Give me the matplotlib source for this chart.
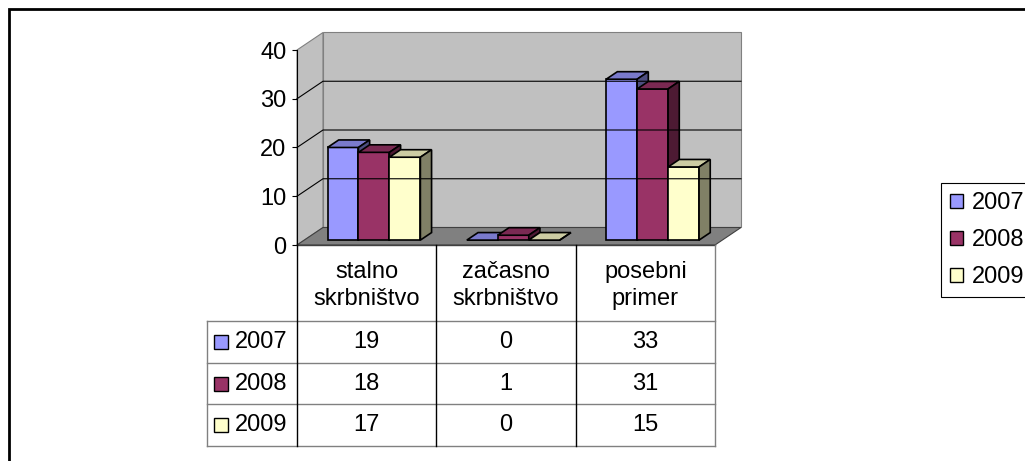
import numpy as np
import matplotlib
matplotlib.use("Agg")
import matplotlib.pyplot as plt
from matplotlib.patches import Polygon, Rectangle, Patch
from matplotlib.colors import to_rgb

plt.rcParams["font.family"] = ["Liberation Sans", "DejaVu Sans"]

categories = ["stalno\nskrbništvo", "začasno\nskrbništvo", "posebni\nprimer"]
years = ["2007", "2008", "2009"]
v2007 = [19, 0, 33]
v2008 = [18, 1, 31]
v2009 = [17, 0, 15]
series = [v2007, v2008, v2009]
colors = ["#9999FF", "#993366", "#FFFFCC"]
yticks = [0, 10, 20, 30, 40]

FS = 17
W, H = 1025, 461
fig = plt.figure(figsize=(W / 100, H / 100), dpi=100)

# chart frame (cut by the image on the right and bottom)
fig.patches.append(Rectangle((9 / W, -0.1), 1.2, (H - 9) / H + 0.1, transform=fig.transFigure,
                             facecolor="none", edgecolor="black", lw=2))

# front plane of the plot in pixels
px_left, px_right, px_zero, px_top = 297, 715, 245, 50
ax = fig.add_axes([px_left / W, (H - px_zero) / H, (px_right - px_left) / W, (px_zero - px_top) / H])
ax.set_xlim(-0.5, 2.5)
ax.set_ylim(0, 40)
ax.patch.set_visible(False)
for s in ["top", "right", "bottom"]:
    ax.spines[s].set_visible(False)
ax.spines["left"].set_zorder(5)
ax.set_xticks([])
ax.set_yticks(yticks)
ax.tick_params(axis="y", length=3.6, width=0.8, pad=4, labelsize=FS)

# depth offset of the back wall, in data units
DX = 26 / ((px_right - px_left) / 3)
DY = 17.5 / ((px_zero - px_top) / 40)


def proj(x, y, d):
    return (x + d * DX, y + d * DY)


def poly(pts, **kw):
    ax.add_patch(Polygon([proj(*p) for p in pts], closed=True, clip_on=False, **kw))


wall = "#C0C0C0"
poly([(-0.5, 0, 0), (-0.5, 40, 0), (-0.5, 40, 1), (-0.5, 0, 1)], facecolor=wall, edgecolor="#808080", lw=0.8)
poly([(-0.5, 0, 1), (-0.5, 40, 1), (2.5, 40, 1), (2.5, 0, 1)], facecolor=wall, edgecolor="#808080", lw=0.8)
poly([(-0.5, 0, 0), (2.5, 0, 0), (2.5, 0, 1), (-0.5, 0, 1)], facecolor="#808080", edgecolor="#404040", lw=0.8)

for v in yticks[1:-1]:
    xs, ys = zip(proj(-0.5, v, 0), proj(-0.5, v, 1), proj(2.5, v, 1))
    ax.plot(xs, ys, color="black", lw=0.8, clip_on=False)

# bars
w = 1 / 4.5
f0, f1 = 0.28, 0.71
for i in range(len(categories)):
    for j, vals in enumerate(series):
        v = vals[i]
        base = np.array(to_rgb(colors[j]))
        x0 = i - 1.5 * w + j * w
        x1 = x0 + w
        fx, fy = proj(x0, 0, f0)
        ax.bar(fx, v, width=w, bottom=fy, align="edge", color=colors[j],
               edgecolor="black", lw=1.2, clip_on=False)
        poly([(x0, v, f0), (x1, v, f0), (x1, v, f1), (x0, v, f1)],
             facecolor=base * 0.8, edgecolor="black", lw=1.2)
        poly([(x1, 0, f0), (x1, v, f0), (x1, v, f1), (x1, 0, f1)],
             facecolor=base * 0.5, edgecolor="black", lw=1.2)

# data table
tb_left, tb_bottom = 207, 446
row_h = (tb_bottom - 321) / 3
hdr = (321 - px_zero) / row_h
cat_px = (px_right - px_left) / 3
xl = -0.5 - (px_left - tb_left) / cat_px
tax = fig.add_axes([tb_left / W, (H - tb_bottom) / H, (px_right - tb_left) / W, (tb_bottom - px_zero) / H])
tax.set_xlim(xl, 2.5)
tax.set_ylim(hdr + 3, 0)
tax.axis("off")

grid_gray = "#808080"
tax.plot([-0.5, 2.5], [0, 0], color="#404040", lw=1, clip_on=False)
for k in range(4):
    tax.plot([xl, 2.5], [hdr + k, hdr + k], color=grid_gray, lw=1, clip_on=False)
tax.plot([xl, xl], [hdr, hdr + 3], color=grid_gray, lw=1, clip_on=False)
tax.plot([2.5, 2.5], [0, hdr + 3], color=grid_gray, lw=1, clip_on=False)
for x in [-0.5, 0.5, 1.5]:
    tax.plot([x, x], [0, hdr + 3], color="black", lw=1, clip_on=False)

for i, c in enumerate(categories):
    tax.text(i, hdr / 2 + 0.05, c, ha="center", va="center", fontsize=FS, linespacing=1.3)

key_x = xl + (220.5 - tb_left) / cat_px
lab_x = xl + (235 - tb_left) / cat_px
for j, (yr, vals) in enumerate(zip(years, series)):
    yc = hdr + j + 0.5
    tax.plot([key_x], [yc], marker="s", markersize=9.4, mfc=colors[j], mec="black", mew=1, clip_on=False)
    tax.text(lab_x, yc, yr, ha="left", va="center", fontsize=FS)
    for i, v in enumerate(vals):
        tax.text(i, yc, str(v), ha="center", va="center", fontsize=FS)

# legend
handles = [Patch(facecolor=c, edgecolor="black", lw=1) for c in colors]
leg = fig.legend(handles, years, loc="lower left", bbox_to_anchor=(941 / W, (H - 297) / H),
                 borderaxespad=0, fontsize=FS, handlelength=0.55, handleheight=0.55,
                 handletextpad=0.38, labelspacing=0.63, borderpad=0.38, fancybox=False,
                 framealpha=1, edgecolor="black")
leg.get_frame().set_linewidth(0.8)

fig.savefig("out.png", dpi=100)
